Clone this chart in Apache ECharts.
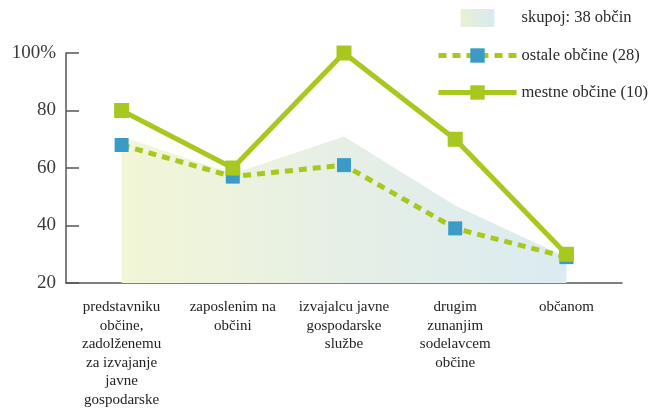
<!DOCTYPE html>
<html>
<head>
<meta charset="utf-8">
<script src="https://cdn.jsdelivr.net/npm/echarts@6/dist/echarts.min.js"></script>
<style>
  html, body { margin: 0; padding: 0; background: #fff; }
  #chart { width: 654px; height: 409px; }
</style>
</head>
<body>
<div id="chart"></div>
<script>
  // kategorije (x os)
  const categories = [
    'predstavniku\nobčine,\nzadolženemu\nza izvajanje\njavne\ngospodarske\nslužbe',
    'zaposlenim na\nobčini',
    'izvajalcu javne\ngospodarske\nslužbe',
    'drugim\nzunanjim\nsodelavcem\nobčine',
    'občanom'
  ]
  // vrednosti
  const skupoj = [71, 58, 71, 47, 29]
  const ostale = [68, 57, 61, 39, 29]
  const mestne = [80, 60, 100, 70, 30]
  const seriesNames = ['skupoj: 38 občin', 'ostale občine (28)', 'mestne občine (10)']

  const green = '#a9c81f'
  const blue = '#3a9cc6'
  const serif = '"Liberation Serif", "DejaVu Serif", serif'

  const chart = echarts.init(document.getElementById('chart'))

  const option = {
    animation: false,
    grid: { left: 66, right: 32, top: 53, bottom: 126, outerBoundsMode: 'none', containLabel: false },
    legend: {
      orient: 'vertical',
      left: 436,
      top: 9,
      padding: 0,
      itemWidth: 78,
      itemHeight: 18,
      itemGap: 20,
      lineStyle: { width: 5 },
      textStyle: { fontFamily: serif, fontSize: 16.5, color: '#2a2a2a' },
      data: [
        {
          name: seriesNames[0],
          icon: 'path://M0,0h30v16h-30z',
          itemStyle: {
            color: new echarts.graphic.LinearGradient(0, 0, 1, 0, [
              { offset: 0, color: '#e8f0d6' },
              { offset: 1, color: '#d9eaf1' }
            ])
          }
        },
        seriesNames[1],
        seriesNames[2]
      ]
    },
    xAxis: {
      type: 'category',
      data: categories,
      boundaryGap: true,
      axisLine: { lineStyle: { color: '#555', width: 1.5 } },
      axisTick: { inside: true, length: 6, lineStyle: { color: '#555', width: 1.5 } },
      axisLabel: {
        interval: 0,
        margin: 15,
        fontFamily: serif,
        fontSize: 15,
        lineHeight: 18.5,
        color: '#222'
      }
    },
    yAxis: {
      type: 'value',
      min: 20,
      max: 100,
      interval: 20,
      splitLine: { show: false },
      axisLine: { show: true, lineStyle: { color: '#555', width: 1.5 } },
      axisTick: { show: true, inside: true, length: 13, lineStyle: { color: '#555', width: 1.5 } },
      axisLabel: {
        margin: 10,
        fontFamily: serif,
        fontSize: 19,
        color: '#3a3a3a',
        formatter: v => v === 100 ? '100%' : String(v)
      }
    },
    series: [
      {
        name: seriesNames[0],
        type: 'line',
        data: skupoj,
        symbol: 'none',
        lineStyle: { width: 0 },
        itemStyle: { color: '#dcebe8' },
        areaStyle: {
          origin: 'start',
          opacity: 1,
          color: new echarts.graphic.LinearGradient(0, 0, 1, 0, [
            { offset: 0, color: '#f2f6d6' },
            { offset: 0.5, color: '#e6efe6' },
            { offset: 1, color: '#dbebf1' }
          ])
        },
        z: 1
      },
      {
        name: seriesNames[1],
        type: 'line',
        data: ostale,
        symbol: 'rect',
        symbolSize: 14,
        itemStyle: { color: blue },
        lineStyle: { color: green, width: 5, type: [8, 6] },
        z: 2
      },
      {
        name: seriesNames[2],
        type: 'line',
        data: mestne,
        symbol: 'rect',
        symbolSize: 15,
        itemStyle: { color: green },
        lineStyle: { color: green, width: 5 },
        z: 3
      }
    ]
  }

  chart.setOption(option)
</script>
</body>
</html>
